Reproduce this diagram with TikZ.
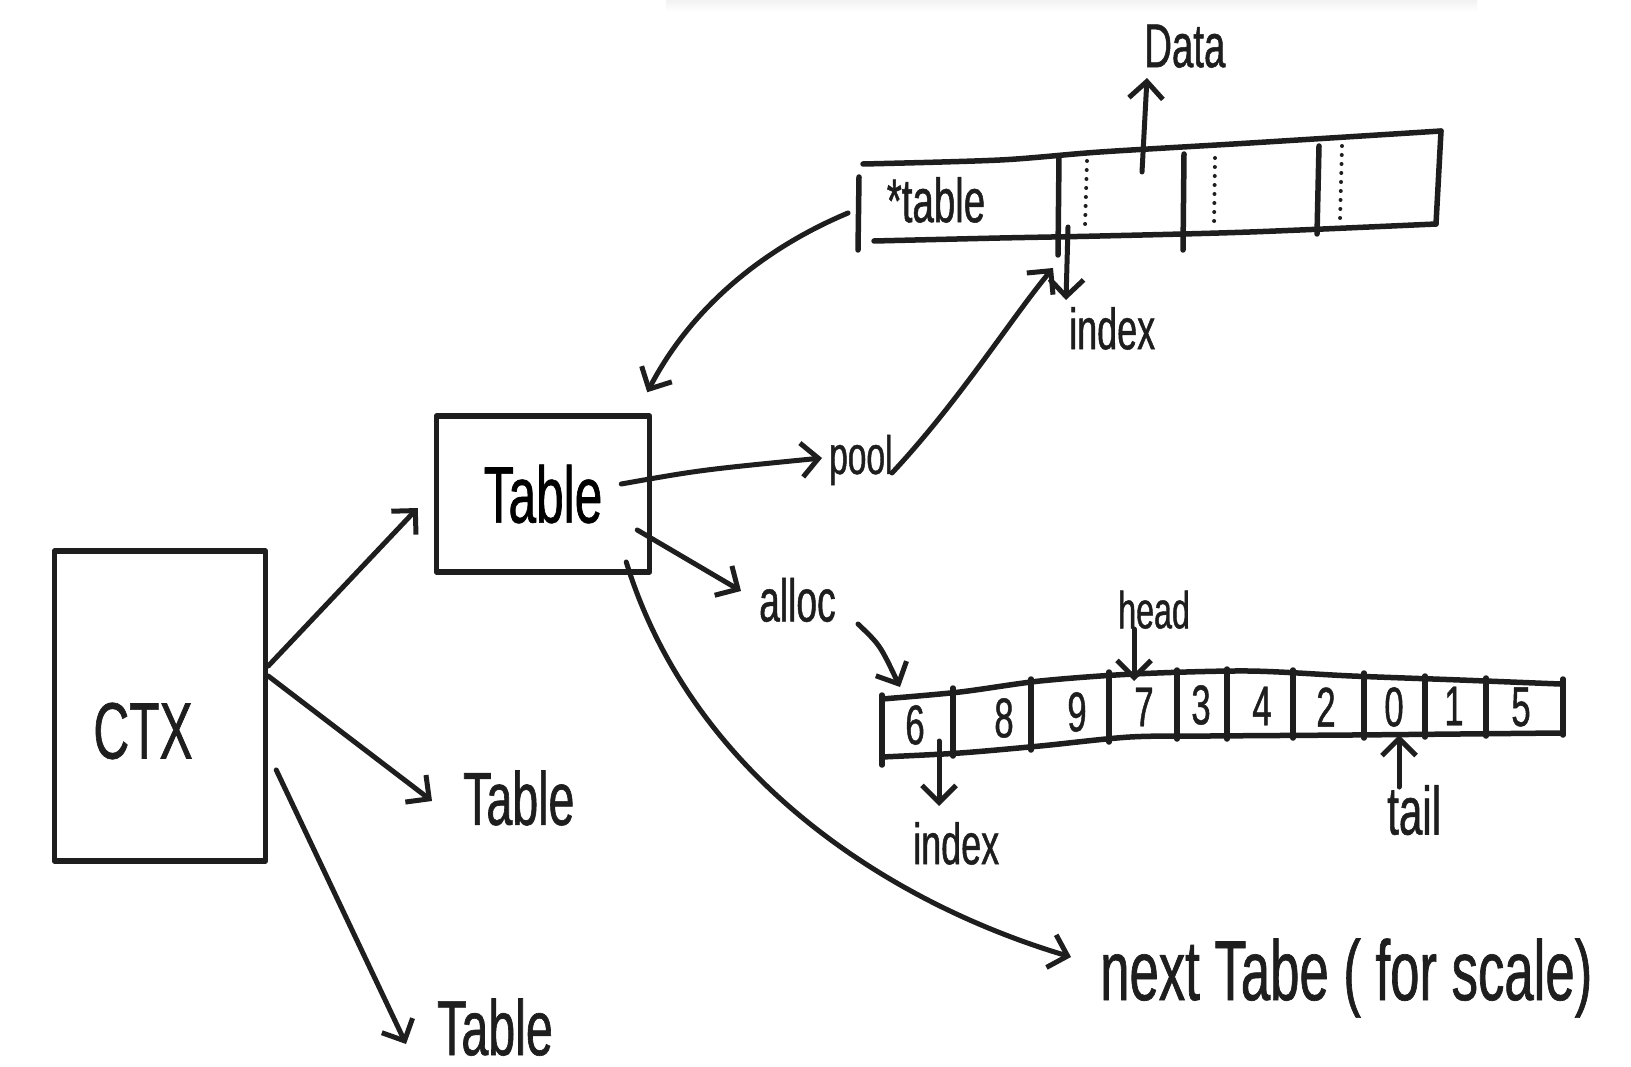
\documentclass[tikz,border=0pt]{standalone}
\usepackage{fontspec}
\newfontfamily\hand{Liberation Sans}[FakeStretch=0.62,FakeBold=0.8]
\usetikzlibrary{arrows.meta,calc}
\definecolor{inkc}{HTML}{1E1E1E}
\newcommand\hsz[1]{\hand\fontsize{#1}{#1}\selectfont}
\begin{document}
\begin{tikzpicture}[x=1pt,y=-1pt,
  ink/.style={draw=inkc, line width=5.5pt, line cap=round, line join=round},
  arr/.style={draw=inkc, line width=5pt, line cap=round, -{Straight Barb[length=17pt,width=34pt]}},
  lbl/.style={inner sep=0pt, text=inkc},
  boxn/.style={ink, inner sep=0pt},
  dots/.style={draw=inkc, line width=4pt, line cap=round, dash pattern=on 0pt off 9pt},
]
\useasboundingbox (0,0) rectangle (1631,1067);
\fill[white] (0,0) rectangle (1631,1067);
\shade[top color=gray!10, bottom color=white] (666,0) rectangle (1477,12);

% ---------- boxes ----------
\node[boxn, minimum width=211pt, minimum height=310pt] (ctx) at (160,706) {};
\node[lbl] (ctxl) at (143,731) {\hsz{80}CTX};
\node[boxn, minimum width=213pt, minimum height=156pt] (tab) at (543,494) {\hsz{80}Table};

% ---------- labels ----------
\node[lbl, anchor=west] (t2) at (463,798) {\hsz{75}Table};
\node[lbl, anchor=south west] (t3) at (437,1056) {\hsz{78}Table};
\node[lbl, anchor=west] (pool) at (829,460) {\hsz{54}pool};
\node[lbl, anchor=west] (alloc) at (759,600) {\hsz{60}alloc};
\node[lbl, anchor=west] (next) at (1100,978) {\hsz{85}next Tabe ( for scale)};
\node[lbl, anchor=south west] (data) at (1144,68) {\hsz{62}Data};
\node[lbl] (star) at (936,200) {\hsz{62}*table};
\node[lbl, anchor=north west] (idx1) at (1069,307) {\hsz{58}index};
\node[lbl, anchor=south west] (head) at (1118,629) {\hsz{52}head};
\node[lbl, anchor=north west] (idx2) at (913,822) {\hsz{58}index};
\node[lbl, anchor=north west] (tail) at (1387,785) {\hsz{68}tail};

% ---------- top array (pool) ----------
\draw[ink] plot[smooth] coordinates {(863,164) (1000,160) (1100,152) (1250,143) (1441,131)};
\draw[ink] plot[smooth] coordinates {(874,241) (1000,238) (1100,236) (1250,232) (1436,224)};
\draw[ink] (859,177) -- (858,250);
\draw[ink] (1441,131) -- (1436,224);
\draw[ink] (1059,156) -- (1058,255);
\draw[ink] (1184,154) -- (1183,250);
\draw[ink] (1319,146) -- (1317,234);
\draw[dots] (1087,161) -- (1085,226);
\draw[dots] (1215,158) -- (1214,228);
\draw[dots] (1342,146) -- (1340,220);
\coordinate (a1l) at (848,213);
\coordinate (a1idx) at (1053,268);
\coordinate (dstart) at (1142,172);
\coordinate (idx1s) at (1068,227);

% ---------- bottom array (alloc) ----------
\draw[ink] plot[smooth] coordinates {(882,699) (960,692) (1040,681) (1134,674) (1248,671) (1352,676) (1460,680) (1560,684)};
\draw[ink] plot[smooth] coordinates {(882,757) (960,753) (1040,746) (1130,737) (1210,736) (1352,735) (1460,734) (1560,733)};
\draw[ink] (882,695) -- (882,765);
\draw[ink] (1563,679) -- (1563,735);
\foreach \x/\a/\b in {953/688/756, 1031/679/750, 1109/672/742, 1177/670/739, 1227/669/739, 1293/670/738, 1364/673/738, 1425/676/737, 1486/678/736}
  \draw[ink] (\x,\a) -- (\x,\b);
\foreach \x/\y/\d in {915/725/6, 1004/718/8, 1077/712/9, 1144/707/7, 1201/705/3, 1262/706/4, 1326/707/2, 1394/707/0, 1454/706/1, 1521/707/5}
  \node[lbl] (c\d) at (\x,\y) {\hsz{56}\d};
\coordinate (a2in) at (900,687);
\coordinate (a2head) at (1134,681);
\coordinate (idx2s) at (939,741);
\coordinate (a2tail) at (1399,735);

% ---------- connectors ----------
\draw[arr] ([yshift=40pt]ctx.east) -- ([xshift=-16pt,yshift=-14pt]tab.west);
\draw[arr] ([yshift=30pt]ctx.east) -- ([xshift=-31pt,yshift=-3pt]t2.west);
\draw[arr] ([xshift=8pt,yshift=-64pt]ctx.east) -- ([xshift=-31pt,yshift=12pt]t3.south west);
\draw[arr] ([xshift=-31pt,yshift=10pt]tab.east) .. controls (700,470) .. ([xshift=-7pt,yshift=2pt]pool.west);
\draw[arr] ([xshift=63pt,yshift=-13pt]pool.west) .. controls (960,400) and (1010,320) .. (a1idx);
\draw[arr] (a1l) .. controls (760,250) and (690,310) .. ([xshift=-5pt,yshift=21pt]tab.north east);
\draw[arr] ([xshift=-15pt,yshift=-36pt]tab.east) -- ([xshift=-18pt,yshift=9pt]alloc.west);
\draw[arr] ([xshift=99pt,yshift=-24pt]alloc.west) .. controls (880,645) .. (a2in);
\draw[arr] ([xshift=-26pt,yshift=-68pt]tab.east) .. controls (690,770) and (880,900) .. ([xshift=-29pt,yshift=21pt]next.west);
\draw[arr] (dstart) -- ([xshift=3pt,yshift=-10pt]data.south west);
\draw[arr] (idx1s) -- ([xshift=-3pt,yshift=7pt]idx1.north west);
\draw[arr] ([xshift=16pt]head.south west) -- (a2head);
\draw[arr] (idx2s) -- ([xshift=26pt,yshift=16pt]idx2.north west);
\draw[arr] ([xshift=12pt,yshift=-2pt]tail.north west) -- (a2tail);
\end{tikzpicture}
\end{document}
